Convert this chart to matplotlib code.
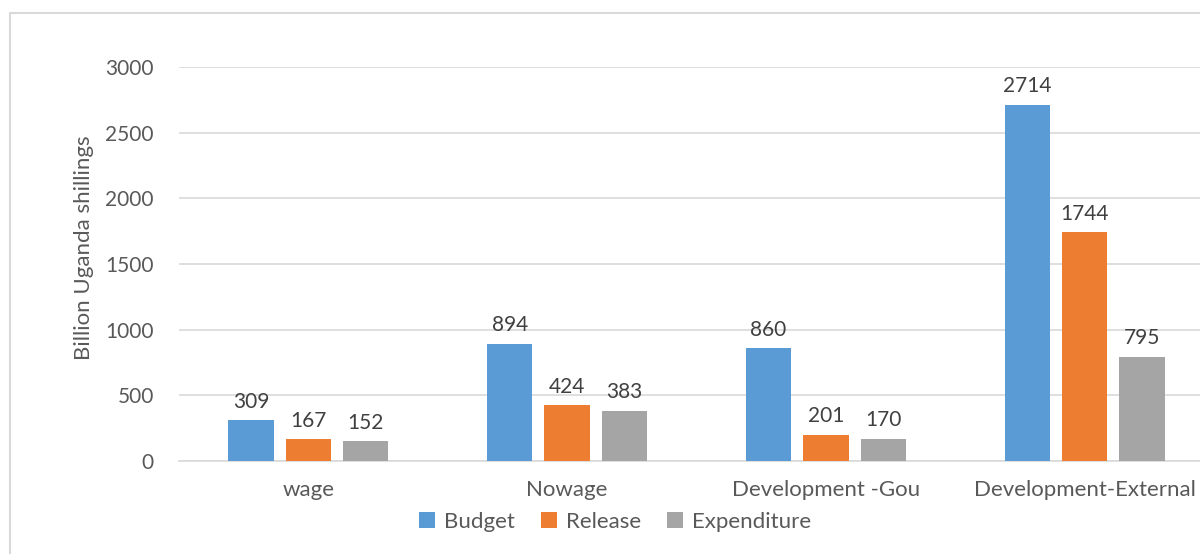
import matplotlib
matplotlib.use('Agg')
import numpy as np
import matplotlib.pyplot as plt
from matplotlib.patches import Rectangle

categories = ["wage", "Nowage", "Development -Gou", "Development-External"]
budget = [309, 894, 860, 2714]
release = [167, 424, 201, 1744]
expenditure = [152, 383, 170, 795]

series = [("Budget", budget, "#5B9BD5"),
          ("Release", release, "#ED7D31"),
          ("Expenditure", expenditure, "#A5A5A5")]

plt.rcParams['font.family'] = ['Lato', 'DejaVu Sans']

W, H = 1200, 554
fig = plt.figure(figsize=(W / 100, H / 100), dpi=100)
# plot area runs off the right edge, like the exported chart
ax = fig.add_axes([179 / W, (H - 461) / H, 1035 / W, 394 / H])

x = np.arange(len(categories))
width = 0.175
step = 0.222
for i, (name, vals, col) in enumerate(series):
    pos = x + (i - 1) * step
    ax.bar(pos, vals, width, color=col, label=name, zorder=3)
    for px, v in zip(pos, vals):
        ax.annotate(str(v), (px, v), xytext=(0, 6), textcoords='offset points',
                    ha='center', va='bottom', fontsize=15, color='#404040')

ax.set_xlim(-0.5, 3.5)
ax.set_ylim(0, 3000)
ax.set_yticks(range(0, 3001, 500))
ax.set_xticks(x)
ax.set_xticklabels(categories, fontsize=16)
ax.yaxis.grid(True, color='#D9D9D9', lw=1.2, zorder=0)
ax.tick_params(length=0, colors='#595959')
ax.tick_params(axis='y', pad=18, labelsize=15)
ax.tick_params(axis='x', pad=14)
for s in ['top', 'right', 'left']:
    ax.spines[s].set_visible(False)
ax.spines['bottom'].set_color('#D9D9D9')
ax.spines['bottom'].set_linewidth(1.2)

# axis title sits a little above the plot centre
fig.text(84 / W, 1 - 248 / H, "Billion Uganda shillings", rotation=90,
         ha='center', va='center', fontsize=16, color='#595959')

handles, labels = ax.get_legend_handles_labels()
fig.legend(handles, labels, loc='center', bbox_to_anchor=(615 / W, 1 - 522 / H),
           ncol=3, frameon=False, fontsize=16, labelcolor='#595959',
           handlelength=0.7, handleheight=0.7, handletextpad=0.4, columnspacing=1.2)

# light chart-area border
fig.patches.append(Rectangle((10 / W, -0.1), 1.2, 1.1 - 13 / H, transform=fig.transFigure,
                             fill=False, edgecolor='#D9D9D9', lw=1.5))

fig.savefig("out.png", dpi=100)
